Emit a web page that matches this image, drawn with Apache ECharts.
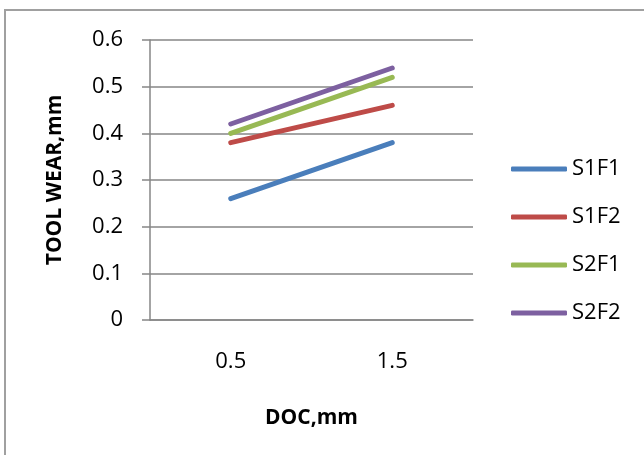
<!DOCTYPE html>
<html>
<head>
<meta charset="utf-8">
<script src="https://cdn.jsdelivr.net/npm/echarts@6/dist/echarts.min.js"></script>
<style>
  html, body { margin: 0; padding: 0; background: #fff; }
  #chart { width: 644px; height: 455px; }
</style>
</head>
<body>
<div id="chart"></div>
<script>
// DOC (depth of cut) categories and tool wear per speed/feed combination
const docLevels = ["0.5", "1.5"];
const s1f1 = [0.26, 0.38];
const s1f2 = [0.38, 0.46];
const s2f1 = [0.40, 0.52];
const s2f2 = [0.42, 0.54];
const seriesNames = ["S1F1", "S1F2", "S2F1", "S2F2"];
const seriesColors = ["#4A7EBB", "#BE4B48", "#98B954", "#7D60A0"];

const FONT = "'Open Sans', 'Liberation Sans', sans-serif";
const chart = echarts.init(document.getElementById("chart"));

const seriesValues = [s1f1, s1f2, s2f1, s2f2];

const option = {
  animation: false,
  textStyle: { fontFamily: FONT },
  graphic: [
    {
      type: "rect",
      shape: { x: 5, y: 10, width: 700, height: 500 },
      style: { fill: "none", stroke: "#a0a0a0", lineWidth: 2 },
      silent: true,
    },
  ],
  grid: { left: 150, right: 171, top: 40, bottom: 135 },
  legend: {
    orient: "vertical",
    left: 506,
    top: 153,
    itemWidth: 56,
    itemHeight: 5,
    itemGap: 26,
    icon: "roundRect",
    data: seriesNames,
    textStyle: { fontSize: 22, lineHeight: 22, color: "#000", fontFamily: FONT },
  },
  xAxis: {
    type: "category",
    data: docLevels,
    boundaryGap: true,
    name: "DOC,mm",
    nameLocation: "middle",
    nameGap: 88,
    nameTextStyle: { fontSize: 21, fontWeight: "bold", color: "#000", fontFamily: FONT },
    axisLine: { lineStyle: { color: "#868686", width: 1.5 } },
    axisTick: { show: false },
    axisLabel: { fontSize: 22, color: "#000", margin: 31 },
  },
  yAxis: {
    type: "value",
    min: 0,
    max: 0.6,
    interval: 0.1,
    name: "TOOL WEAR,mm",
    nameLocation: "middle",
    nameGap: 84,
    nameTextStyle: { fontSize: 21, fontWeight: "bold", color: "#000", fontFamily: FONT },
    axisLine: { show: true, lineStyle: { color: "#868686", width: 1.5 } },
    axisTick: { show: true, inside: false, length: 8, lineStyle: { color: "#868686", width: 1.5 } },
    axisLabel: {
      fontSize: 22,
      color: "#000",
      margin: 27,
      formatter: (v) => (v === 0 ? "0" : v.toFixed(1)),
    },
    splitLine: { lineStyle: { color: "#868686", width: 1.5 } },
  },
  series: seriesNames.map((name, i) => ({
    name,
    type: "line",
    data: seriesValues[i],
    color: seriesColors[i],
    showSymbol: false,
    symbol: "none",
    lineStyle: { width: 5, cap: "round", color: seriesColors[i] },
  })),
};

chart.setOption(option);
</script>
</body>
</html>
